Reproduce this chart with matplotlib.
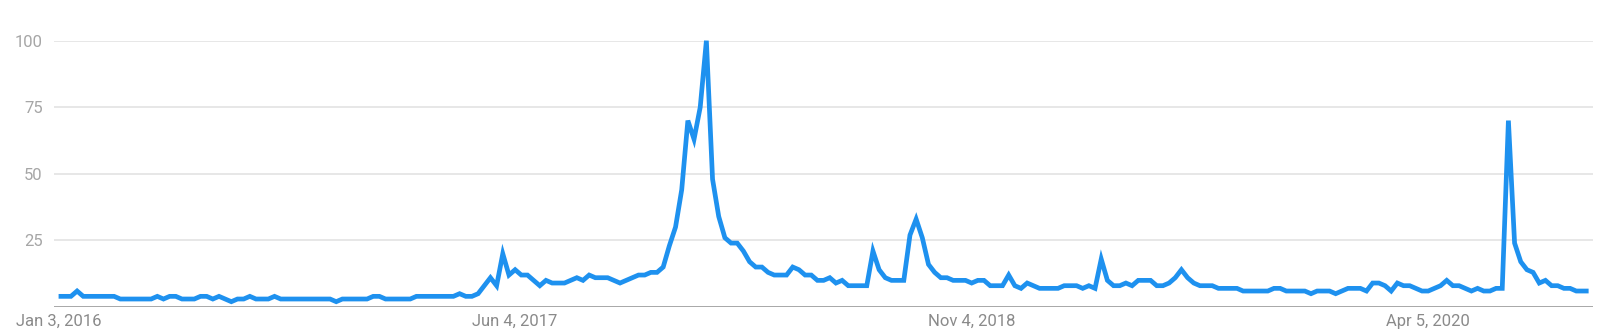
import matplotlib
matplotlib.use("Agg")
import matplotlib.pyplot as plt
import pandas as pd

start_date = "2016-01-03"

values_2016 = [4, 4, 4, 6, 4, 4, 4, 4, 4, 4, 3, 3, 3, 3, 3, 3, 4, 3, 4, 4,
               3, 3, 3, 4, 4, 3, 4, 3, 2, 3, 3, 4, 3, 3, 3, 4, 3, 3, 3, 3,
               3, 3, 3, 3, 3, 2, 3, 3, 3, 3, 3, 4]
values_2017 = [4, 3, 3, 3, 3, 3, 4, 4, 4, 4, 4, 4, 4, 5, 4, 4, 5, 8, 11, 8,
               20, 12, 14, 12, 12, 10, 8, 10, 9, 9, 9, 10, 11, 10, 12, 11, 11, 11, 10, 9,
               10, 11, 12, 12, 13, 13, 15, 23, 30, 44, 70, 63, 75]
values_2018 = [100, 48, 34, 26, 24, 24, 21, 17, 15, 15, 13, 12, 12, 12, 15, 14, 12, 12, 10, 10,
               11, 9, 10, 8, 8, 8, 8, 21, 14, 11, 10, 10, 10, 27, 33, 26, 16, 13, 11, 11,
               10, 10, 10, 9, 10, 10, 8, 8, 8, 12, 8, 7]
values_2019 = [9, 8, 7, 7, 7, 7, 8, 8, 8, 7, 8, 7, 18, 10, 8, 8, 9, 8, 10, 10,
               10, 8, 8, 9, 11, 14, 11, 9, 8, 8, 8, 7, 7, 7, 7, 6, 6, 6, 6, 6,
               7, 7, 6, 6, 6, 6, 5, 6, 6, 6, 5, 6]
values_2020 = [7, 7, 7, 6, 9, 9, 8, 6, 9, 8, 8, 7, 6, 6, 7, 8, 10, 8, 8, 7,
               6, 7, 6, 6, 7, 7, 70, 24, 17, 14, 13, 9, 10, 8, 8, 7, 7, 6, 6, 6]

values = values_2016 + values_2017 + values_2018 + values_2019 + values_2020
dates = pd.date_range(start_date, periods=len(values), freq="7D")

tick_dates = pd.to_datetime(["2016-01-03", "2017-06-04", "2018-11-04", "2020-04-05"])
tick_labels = [f"{d:%b} {d.day}, {d.year}" for d in tick_dates]
y_ticks = [25, 50, 75, 100]

plt.rcParams["font.family"] = ["Roboto", "DejaVu Sans"]

fig = plt.figure(figsize=(16, 3.36), dpi=100)
ax = fig.add_axes([0.03375, 0.0863, 0.962, 0.7926])

for yv in y_ticks:
    ax.axhline(yv, color="#e3e3e3", lw=1.2, zorder=0)
ax.axhline(0, color="#a8a8a8", lw=1.4, zorder=1)

ax.plot(dates, values, color="#1e91ef", lw=3.4, solid_joinstyle="miter",
        solid_capstyle="butt", zorder=3, clip_on=False)

ax.set_ylim(0, 100)
ax.margins(x=0.003)
ax.set_yticks(y_ticks)
ax.set_yticklabels([str(v) for v in y_ticks])
ax.set_xticks(tick_dates)
ax.set_xticklabels(tick_labels)

ax.tick_params(axis="y", length=0, pad=8, labelsize=12, labelcolor="#a6a6a6")
ax.tick_params(axis="x", length=0, pad=5, labelsize=12, labelcolor="#8a8a8a")
for s in ax.spines.values():
    s.set_visible(False)
ax.set_facecolor("white")

fig.savefig("out.png", dpi=100, facecolor="white")
